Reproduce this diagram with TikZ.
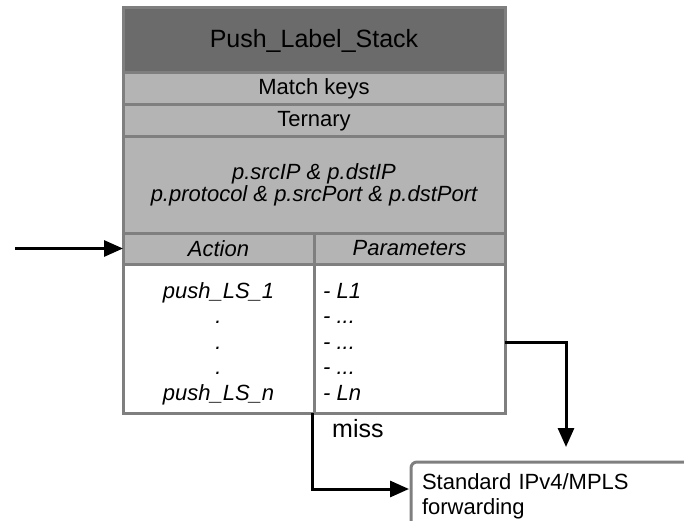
\documentclass[tikz,border=0pt]{standalone}
\usepackage{fontspec}
\setmainfont{Liberation Sans}
\usetikzlibrary{arrows.meta,calc}

\definecolor{framegray}{HTML}{7F7F7F}
\definecolor{titlegray}{HTML}{6B6B6B}
\definecolor{rowgray}{HTML}{B4B4B4}

\tikzset{
	tblrow/.style={draw=framegray, line width=3pt, fill=rowgray, outer sep=0pt, inner sep=0pt, anchor=north west, minimum width=382pt, font=\fontsize{22}{22}\selectfont},
	tblcol/.style={tblrow, minimum width=191pt},
	actlbl/.style={anchor=base, inner sep=0pt, font=\fontsize{22}{22}\selectfont\itshape},
	parlbl/.style={anchor=base west, inner sep=0pt, font=\fontsize{22}{22}\selectfont\itshape},
	fwdbox/.style={draw=framegray, line width=3pt, rounded corners=6pt, anchor=north west, outer sep=0pt, inner xsep=11pt, inner ysep=12pt, text width=288pt, align=left, font=\fontsize{22}{25}\selectfont},
	flow/.style={draw=black, line width=3pt, -{Triangle[length=19pt,width=16pt]}}
}

\begin{document}
\begin{tikzpicture}[x=1pt,y=-1pt]

			\useasboundingbox (0,0) rectangle (684,521);

			\node[tblrow, fill=titlegray, minimum height=65pt, font=\fontsize{25}{28}\selectfont] (title) at (123,8) {Push\_Label\_Stack};
			\node[tblrow, minimum height=32pt] (keys) at (123,73) {Match keys};
			\node[tblrow, minimum height=32pt] (tern) at (123,105) {Ternary};
			\node[tblrow, minimum height=96pt, align=center, font=\fontsize{22}{22.5}\selectfont\itshape] (expr) at (123,137) {p.srcIP \& p.dstIP\\p.protocol \& p.srcPort \& p.dstPort};

			\node[tblcol, minimum height=31pt, font=\fontsize{22}{22}\selectfont\itshape] (hdrA) at (123,233) {Action};
			\node[tblcol, minimum height=31pt, font=\fontsize{22}{22}\selectfont\itshape] (hdrP) at (314,233) {Parameters};

			\node[tblcol, fill=white, minimum height=149pt] (bodyA) at (123,264) {};
			\node[tblcol, fill=white, minimum height=149pt] (bodyP) at (314,264) {};

			\node[actlbl] (act1) at (218.5,298) {push\_LS\_1};
			\node[actlbl] (act2) at (218.5,323.5) {.};
			\node[actlbl] (act3) at (218.5,349) {.};
			\node[actlbl] (act4) at (218.5,374.5) {.};
			\node[actlbl] (actn) at (218.5,400) {push\_LS\_n};

			\node[parlbl] (par1) at (323,298) {- L1};
			\node[parlbl] (par2) at (323,323.5) {- ...};
			\node[parlbl] (par3) at (323,349) {- ...};
			\node[parlbl] (par4) at (323,374.5) {- ...};
			\node[parlbl] (parn) at (323,400) {- Ln};

			\node[fwdbox] (fwd) at (411,462) {Standard IPv4/MPLS\\forwarding};

			\node[anchor=base west, inner sep=0pt, font=\fontsize{25}{25}\selectfont] (misslbl) at (332,437) {miss};

			\coordinate (src) at (15,248.5);
			\draw[flow] (src) -- (hdrA.west);

			\draw[flow] ([yshift=-3.5pt]bodyP.east) -| ([yshift=15pt]fwd.north);

			\draw[flow] ([xshift=-2pt]bodyA.south east) |- ($(fwd.north west)+(-2,27)$);

	\end{tikzpicture}
\end{document}
